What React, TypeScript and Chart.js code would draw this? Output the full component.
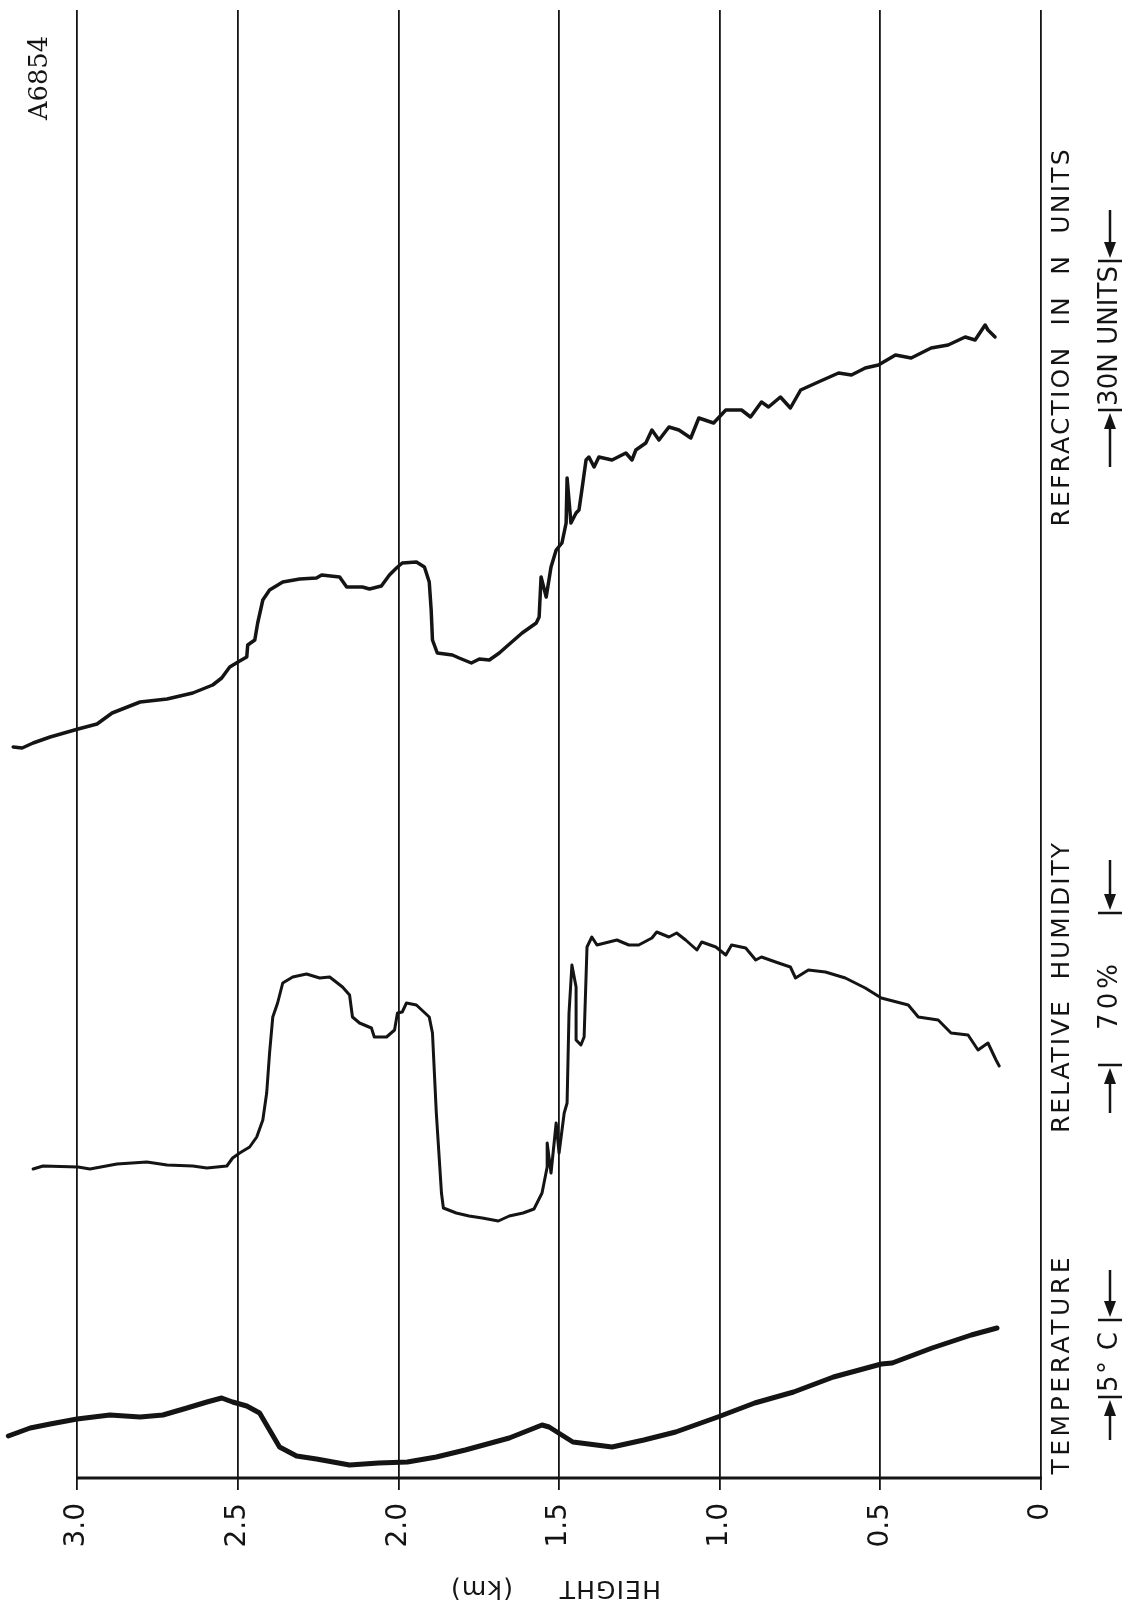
import React, { useEffect, useRef } from "react";
import { Chart, registerables } from "chart.js";

Chart.register(...registerables);

// ---- Axis ----
const HEIGHT_TICKS = [0, 0.5, 1.0, 1.5, 2.0, 2.5, 3.0];
const HEIGHT_TICK_LABELS = ["0", "0.5", "1.0", "1.5", "2.0", "2.5", "3.0"];
const HEIGHT_MAX = 3.24;
const TRACE_MAX = 1468;

// ---- Refraction trace (height km, trace deflection) ----
const REFRACTION_HEIGHT = [
  3.199, 3.171, 3.137, 3.084, 2.997, 2.938, 2.891, 2.804, 2.72, 2.64, 2.578, 2.55, 2.525, 2.494,
  2.472, 2.469, 2.447, 2.438, 2.422, 2.401, 2.36, 2.307, 2.255, 2.239, 2.183, 2.161, 2.112, 2.09,
  2.053, 2.028, 2.006, 1.988, 1.944, 1.919, 1.904, 1.898, 1.894, 1.879, 1.832, 1.811, 1.773,
  1.748, 1.717, 1.686, 1.665, 1.615, 1.571, 1.562, 1.556, 1.54, 1.525, 1.509, 1.491, 1.478,
  1.475, 1.463, 1.447, 1.438, 1.429, 1.416, 1.407, 1.391, 1.376, 1.335, 1.292, 1.273, 1.261,
  1.23, 1.211, 1.189, 1.158, 1.127, 1.09, 1.065, 1.019, 0.981, 0.932, 0.904, 0.87, 0.848, 0.811,
  0.78, 0.748, 0.693, 0.63, 0.59, 0.547, 0.506, 0.453, 0.404, 0.342, 0.289, 0.236, 0.205, 0.174,
  0.165, 0.143,
];
const REFRACTION_TRACE = [
  731, 730, 735, 741, 749, 754, 765, 776, 779, 785, 793, 800, 811, 817, 821, 833, 838, 855, 878,
  888, 896, 899, 900, 903, 901, 891, 891, 889, 892, 903, 910, 915, 916, 911, 896, 868, 838, 825,
  823, 820, 815, 819, 818, 825, 831, 845, 855, 861, 901, 881, 911, 928, 935, 955, 1000, 955, 965,
  968, 988, 1018, 1021, 1011, 1021, 1018, 1025, 1018, 1028, 1035, 1048, 1038, 1051, 1048, 1040,
  1060, 1055, 1068, 1068, 1061, 1076, 1071, 1081, 1070, 1088, 1096, 1105, 1103, 1110, 1113, 1123,
  1120, 1130, 1133, 1141, 1138, 1153, 1148, 1141,
];

// ---- Relative humidity trace ----
const HUMIDITY_HEIGHT = [
  3.137, 3.106, 2.997, 2.96, 2.876, 2.783, 2.72, 2.64, 2.596, 2.534, 2.516, 2.494, 2.463, 2.441,
  2.422, 2.41, 2.401, 2.391, 2.376, 2.36, 2.329, 2.286, 2.245, 2.214, 2.174, 2.152, 2.143, 2.121,
  2.084, 2.075, 2.037, 2.012, 2.003, 1.988, 1.975, 1.944, 1.904, 1.894, 1.882, 1.866, 1.86, 1.82,
  1.78, 1.739, 1.689, 1.655, 1.612, 1.578, 1.553, 1.537, 1.537, 1.525, 1.509, 1.5, 1.484, 1.475,
  1.469, 1.46, 1.447, 1.447, 1.432, 1.422, 1.413, 1.398, 1.382, 1.32, 1.283, 1.252, 1.211, 1.196,
  1.158, 1.134, 1.106, 1.071, 1.056, 1.012, 0.981, 0.963, 0.919, 0.888, 0.87, 0.817, 0.78, 0.764,
  0.724, 0.671, 0.609, 0.547, 0.497, 0.413, 0.382, 0.32, 0.28, 0.227, 0.196, 0.165, 0.14, 0.13,
];
const HUMIDITY_TRACE = [
  309, 312, 311, 309, 314, 316, 313, 312, 310, 312, 320, 325, 331, 341, 358, 385, 425, 461, 475,
  495, 501, 504, 500, 501, 491, 483, 461, 455, 450, 441, 441, 448, 465, 466, 475, 473, 461, 445,
  365, 285, 270, 265, 262, 260, 257, 262, 265, 269, 285, 311, 335, 305, 355, 325, 365, 375, 465,
  513, 491, 438, 433, 441, 531, 541, 533, 538, 533, 533, 540, 546, 541, 545, 538, 528, 536, 531,
  523, 533, 530, 518, 521, 515, 511, 500, 508, 506, 500, 490, 480, 473, 461, 458, 445, 443, 428,
  435, 418, 412,
];

// ---- Temperature trace ----
const TEMPERATURE_HEIGHT = [
  3.214, 3.146, 3.084, 3.0, 2.898, 2.804, 2.733, 2.658, 2.596, 2.55, 2.516, 2.472, 2.432, 2.401,
  2.37, 2.317, 2.255, 2.152, 2.062, 1.972, 1.882, 1.792, 1.655, 1.553, 1.531, 1.457, 1.335, 1.236,
  1.137, 1.006, 0.891, 0.77, 0.646, 0.497, 0.463, 0.339, 0.217, 0.137,
];
const TEMPERATURE_TRACE = [
  42, 50, 54, 59, 63, 61, 63, 70, 76, 80, 76, 72, 65, 48, 31, 22, 19, 13, 15, 16, 21, 28, 40, 53,
  51, 36, 31, 38, 46, 61, 75, 86, 101, 114, 115, 130, 143, 150,
];

const INK = "#141414";

function pairs(xs: number[], ys: number[]) {
  return xs.map((x, i) => ({ x, y: ys[i] }));
}

function drawFitted(
  ctx: CanvasRenderingContext2D,
  text: string,
  cx: number,
  cy: number,
  len: number,
  font: string,
  angle: number
) {
  ctx.save();
  ctx.translate(cx, cy);
  ctx.rotate(angle);
  ctx.font = font;
  (ctx as any).letterSpacing = "0px";
  const w = ctx.measureText(text).width;
  const n = text.length;
  let ls = n > 1 ? (len - w) / (n - 1) : 0;
  let sx = 1;
  if (ls < 0) {
    sx = len / w;
    ls = 0;
  }
  (ctx as any).letterSpacing = ls + "px";
  ctx.textAlign = "left";
  ctx.textBaseline = "middle";
  ctx.fillStyle = INK;
  ctx.scale(sx, 1);
  ctx.fillText(text, -len / 2 / sx, 0);
  ctx.restore();
}

function drawBar(ctx: CanvasRenderingContext2D, cx: number, y: number) {
  ctx.beginPath();
  ctx.moveTo(cx - 12, y);
  ctx.lineTo(cx + 12, y);
  ctx.stroke();
}

function drawArrow(ctx: CanvasRenderingContext2D, cx: number, yTail: number, yTip: number) {
  const dir = yTip > yTail ? 1 : -1;
  ctx.beginPath();
  ctx.moveTo(cx, yTail);
  ctx.lineTo(cx, yTip - dir * 8);
  ctx.stroke();
  ctx.beginPath();
  ctx.moveTo(cx, yTip);
  ctx.lineTo(cx - 6, yTip - dir * 16);
  ctx.lineTo(cx + 6, yTip - dir * 16);
  ctx.closePath();
  ctx.fill();
}

const decorPlugin = {
  id: "decor",
  beforeDraw(chart: any) {
    const ctx = chart.ctx as CanvasRenderingContext2D;
    ctx.save();
    ctx.fillStyle = "#ffffff";
    ctx.fillRect(0, 0, chart.width, chart.height);
    ctx.restore();
  },
  afterDraw(chart: any) {
    const ctx = chart.ctx as CanvasRenderingContext2D;
    const xs = chart.scales.x;
    const area = chart.chartArea;
    ctx.save();
    // axis base line from 3.0 km to 0 km
    ctx.strokeStyle = INK;
    ctx.lineWidth = 3;
    ctx.beginPath();
    ctx.moveTo(xs.getPixelForValue(3.0) - 1, area.bottom);
    ctx.lineTo(xs.getPixelForValue(0) + 1, area.bottom);
    ctx.stroke();

    const up = -Math.PI / 2;
    const titleFont = "25px 'DejaVu Sans'";
    const subFont = "26px 'DejaVu Sans'";
    const tx = 1062;
    const sx = 1110;

    drawFitted(ctx, "REFRACTION  IN  N  UNITS", tx, 338, 377, titleFont, up);
    drawFitted(ctx, "RELATIVE  HUMIDITY", tx, 988, 290, titleFont, up);
    drawFitted(ctx, "TEMPERATURE", tx, 1366, 217, titleFont, up);

    drawFitted(ctx, "30N UNITS", sx, 336, 140, subFont, up);
    drawFitted(ctx, "70%", sx, 997, 66, subFont, up);
    drawFitted(ctx, "5° C", sx, 1362, 60, subFont, up);

    ctx.strokeStyle = INK;
    ctx.fillStyle = INK;
    ctx.lineWidth = 2.5;
    // refraction scale bar
    drawBar(ctx, sx, 410);
    drawBar(ctx, sx, 261);
    drawArrow(ctx, sx, 467, 413);
    drawArrow(ctx, sx, 210, 258);
    // humidity scale bar
    drawBar(ctx, sx, 1065);
    drawBar(ctx, sx, 913);
    drawArrow(ctx, sx, 1113, 1068);
    drawArrow(ctx, sx, 860, 910);
    // temperature scale bar
    drawBar(ctx, sx, 1397);
    drawBar(ctx, sx, 1320);
    drawArrow(ctx, sx, 1440, 1400);
    drawArrow(ctx, sx, 1270, 1317);

    // axis title (upside down as in the scan)
    drawFitted(ctx, "HEIGHT     (km)", 556, 1587, 210, "25px 'DejaVu Sans'", Math.PI);
    // figure number
    drawFitted(ctx, "A6854", 40, 78, 84, "26px 'DejaVu Serif'", up);
    ctx.restore();
  },
};

export default function App() {
  const ref = useRef<HTMLCanvasElement | null>(null);

  useEffect(() => {
    if (!ref.current) return;
    const chart = new Chart(ref.current, {
      type: "line",
      data: {
        datasets: [
          {
            label: "Refraction in N units",
            data: pairs(REFRACTION_HEIGHT, REFRACTION_TRACE),
            borderColor: INK,
            borderWidth: 3.5,
            pointRadius: 0,
            tension: 0,
            borderJoinStyle: "round",
            borderCapStyle: "round",
          },
          {
            label: "Relative humidity",
            data: pairs(HUMIDITY_HEIGHT, HUMIDITY_TRACE),
            borderColor: INK,
            borderWidth: 3,
            pointRadius: 0,
            tension: 0,
            borderJoinStyle: "round",
            borderCapStyle: "round",
          },
          {
            label: "Temperature",
            data: pairs(TEMPERATURE_HEIGHT, TEMPERATURE_TRACE),
            borderColor: INK,
            borderWidth: 5,
            pointRadius: 0,
            tension: 0,
            borderJoinStyle: "round",
            borderCapStyle: "round",
          },
        ],
      },
      options: {
        animation: false,
        responsive: false,
        devicePixelRatio: 1,
        events: [],
        layout: { padding: { left: 0, right: 99, top: 10, bottom: 0 } },
        plugins: { legend: { display: false }, tooltip: { enabled: false } },
        scales: {
          x: {
            type: "linear",
            min: 0,
            max: HEIGHT_MAX,
            reverse: true,
            afterBuildTicks: (axis: any) => {
              axis.ticks = HEIGHT_TICKS.map((v) => ({ value: v }));
            },
            afterFit: (axis: any) => {
              axis.height = 133;
            },
            border: { display: false },
            grid: {
              color: INK,
              lineWidth: 1.8,
              drawTicks: true,
              tickLength: 12,
            },
            ticks: {
              minRotation: 90,
              maxRotation: 90,
              padding: 13,
              color: INK,
              font: { family: "'DejaVu Sans'", size: 28 },
              callback: (value: any) => {
                const i = HEIGHT_TICKS.indexOf(Number(value));
                return i >= 0 ? HEIGHT_TICK_LABELS[i] : "";
              },
            },
          },
          y: {
            type: "linear",
            min: 0,
            max: TRACE_MAX,
            display: false,
          },
        },
      },
      plugins: [decorPlugin],
    });
    return () => chart.destroy();
  }, []);

  return (
    <div style={{ position: "absolute", left: 0, top: 0, width: 1140, height: 1611, background: "#fff" }}>
      <canvas ref={ref} width={1140} height={1611} style={{ width: 1140, height: 1611, display: "block" }} />
    </div>
  );
}
